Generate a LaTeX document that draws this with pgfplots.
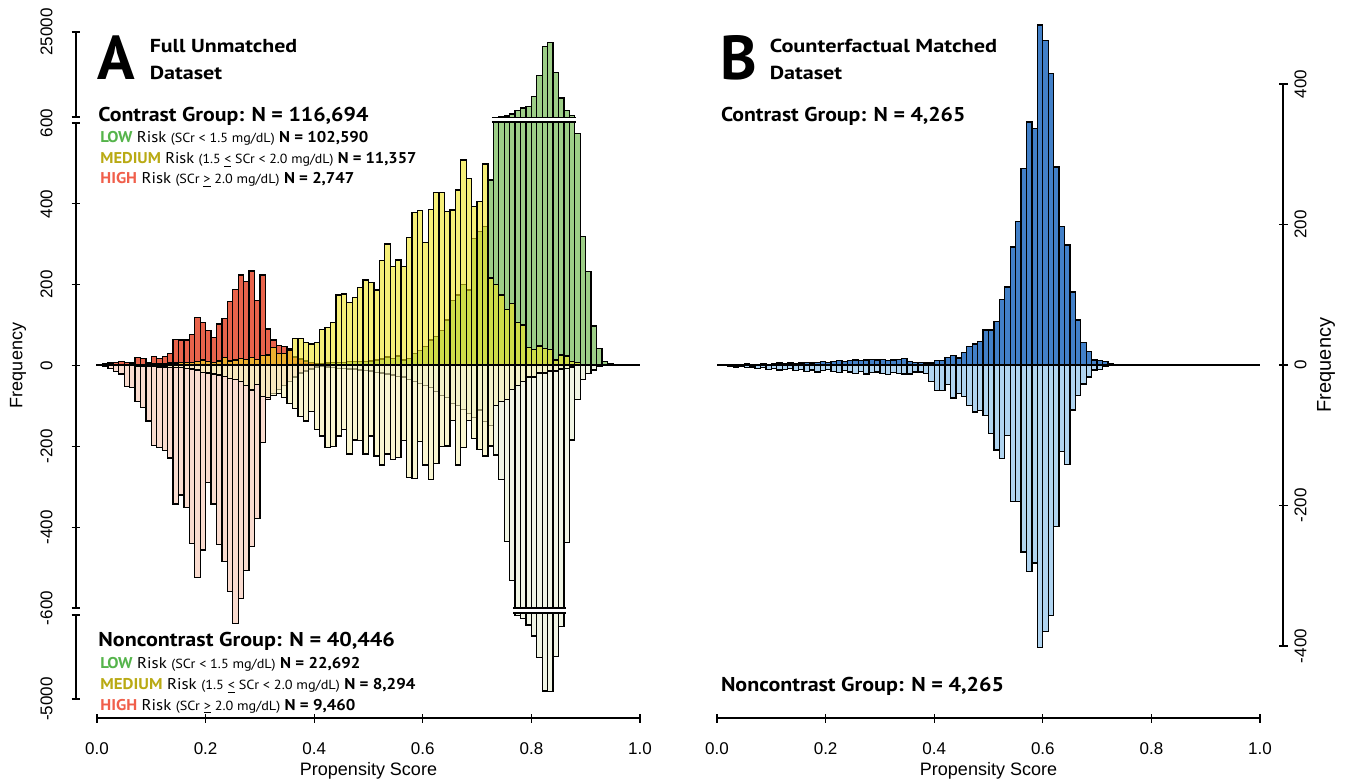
\documentclass[border=0pt]{standalone}
\usepackage{fontspec}
\setmainfont{Liberation Sans}
\newfontfamily\myr{PT Sans}
\usepackage{graphicx}
\usepackage{pgfplots}
\usepackage{pgfplotstable}
\pgfplotsset{compat=1.18}

\definecolor{redP}{RGB}{228,72,44}
\definecolor{yelP}{RGB}{240,228,30}
\definecolor{grnP}{RGB}{105,180,70}
\definecolor{redN}{RGB}{245,195,175}
\definecolor{yelN}{RGB}{245,240,180}
\definecolor{grnN}{RGB}{232,238,212}
\definecolor{bluP}{RGB}{66,128,200}
\definecolor{bluN}{RGB}{176,212,240}
\definecolor{txtLow}{RGB}{85,180,75}
\definecolor{txtMed}{RGB}{185,170,20}
\definecolor{txtHigh}{RGB}{240,95,75}

\pgfplotstableread{
i hp mp lp hn mn ln
0 2 0 0 -2 0 0
1 3 0 0 -3 0 0
2 5 0 0 -8 0 0
3 6 0 0 -16 0 0
4 8 0 0 -22 0 0
5 6 1 0 -53 -2 0
6 5 1 0 -55 -2 0
7 18 2 0 -90 -3 0
8 16 2 0 -105 -3 0
9 6 3 0 -138 -4 0
10 21 3 0 -198 -4 0
11 16 4 0 -203 -5 0
12 21 4 0 -211 -5 0
13 29 5 0 -230 -6 0
14 63 5 0 -343 -6 0
15 62 6 0 -321 -7 0
16 62 6 0 -351 -8 0
17 76 7 0 -440 -10 0
18 118 8 0 -524 -12 0
19 105 12 0 -457 -19 0
20 85 8 0 -290 -20 0
21 68 6 0 -343 -22 0
22 101 10 0 -444 -25 0
23 115 19 0 -486 -29 0
24 156 10 0 -560 -33 0
25 187 12 0 -638 -35 0
26 222 16 0 -576 -40 0
27 206 14 0 -508 -50 0
28 232 19 0 -449 -62 0
29 160 14 0 -379 -49 0
30 222 24 1 -192 -78 0
31 89 25 1 -85 -80 0
32 62 44 1 -70 -75 0
33 49 29 2 -60 -70 0
34 45 29 2 -50 -80 0
35 41 37 2 -40 -95 0
36 20 66 3 -30 -107 0
37 15 66 3 -20 -128 0
38 10 55 3 -15 -138 0
39 6 52 4 -10 -115 0
40 4 55 3 -5 -160 -3
41 2 88 4 -3 -175 -4
42 0 93 5 0 -203 -5
43 0 105 6 0 -202 -6
44 0 173 6 0 -175 -8
45 0 175 7 0 -160 -8
46 0 154 8 0 -220 -10
47 0 167 8 0 -185 -10
48 0 192 9 0 -187 -12
49 0 210 9 0 -220 -14
50 0 203 10 0 -175 -15
51 0 185 12 0 -225 -18
52 0 258 15 0 -247 -20
53 0 299 20 0 -220 -22
54 0 244 16 0 -233 -25
55 0 259 22 0 -228 -28
56 0 244 12 0 -187 -30
57 0 315 16 0 -277 -35
58 0 376 29 0 -280 -40
59 0 381 35 0 -189 -45
60 0 302 45 0 -247 -50
61 0 384 62 0 -282 -55
62 0 426 70 0 -243 -65
63 0 426 85 0 -202 -75
64 0 379 111 0 -200 -80
65 0 383 160 0 -137 -95
66 0 432 173 0 -247 -100
67 0 506 198 0 -203 -110
68 0 461 185 0 -137 -120
69 0 391 313 0 -181 -130
70 0 403 329 0 -208 -111
71 0 496 342 0 -225 -140
72 0 215 457 0 -200 -150
73 0 198 700 0 -100 -222
74 0 173 800 0 -90 -282
75 0 137 1080 0 -85 -436
76 0 151 1650 0 -60 -532
77 0 105 2590 0 -50 -738
78 0 99 3360 0 -40 -871
79 0 43 3730 0 -30 -1214
80 0 39 6575 0 -30 -1776
81 0 47 12550 0 -20 -2886
82 0 41 20800 0 -20 -4590
83 0 39 21940 0 -15 -4626
84 0 12 13490 0 -15 -2835
85 0 25 6200 0 -10 -1301
86 0 22 2590 0 -8 -439
87 0 8 1170 0 -5 -185
88 0 6 572 0 0 -85
89 0 0 317 0 0 -35
90 0 0 230 0 0 -21
91 0 0 96 0 0 -12
92 0 0 41 0 0 -4
93 0 0 8 0 0 0
94 0 0 4 0 0 0
}\tabA

\pgfplotstableread{
i cp cn
0 0 0
1 0 0
2 1 -2
3 0 -3
4 1 -2
5 2 -4
6 1 -3
7 1 -5
8 2 -4
9 1 -6
10 2 -5
11 3 -7
12 2 -6
13 3 -5
14 2 -8
15 3 -6
16 4 -9
17 3 -7
18 4 -10
19 5 -8
20 4 -6
21 5 -9
22 6 -11
23 5 -8
24 6 -10
25 7 -12
26 6 -9
27 7 -13
28 8 -11
29 7 -10
30 8 -12
31 6 -14
32 7 -11
33 8 -12
34 9 -13
35 5 -13
36 4 -10
37 4 -10
38 3 -12
39 3 -23
40 6 -36
41 6 -36
42 11 -28
43 14 -47
44 10 -41
45 18 -45
46 26 -58
47 30 -67
48 33 -65
49 50 -72
50 50 -97
51 62 -121
52 93 -133
53 111 -100
54 168 -194
55 204 -194
56 280 -266
57 346 -294
58 337 -282
59 484 -402
60 462 -379
61 415 -357
62 282 -230
63 197 -123
64 171 -142
65 104 -64
66 64 -43
67 32 -27
68 19 -17
69 7 -7
70 6 -6
71 5 -2
72 2 -1
73 1 0
}\tabB

\pgfplotsset{
  decor/.style={scale only axis, tick align=outside, major tick length=4.5pt,
    every tick/.style={black,line width=0.65pt},
    tick label style={font=\fontsize{8.5}{10}\selectfont},
    label style={font=\fontsize{9}{10}\selectfont},
    scaled ticks=false,
    /pgf/number format/assume math mode=true},
  ydec/.style={decor, width=1pt, xmin=0, xmax=1, hide x axis, axis y line=left,
    y axis line style={line width=0.65pt,-}, axis line style={-},
    yticklabel style={rotate=90, anchor=south, yshift=6pt}},
  xdec/.style={decor, height=1pt, ymin=0, ymax=1, hide y axis, axis x line=bottom,
    x axis line style={line width=0.65pt,-}, axis line style={-},
    width=271.5pt, xmin=0, xmax=1, xtick={0,0.2,0.4,0.6,0.8,1},
    xticklabels={0.0,0.2,0.4,0.6,0.8,1.0},
    xticklabel style={yshift=-6.5pt},
    xlabel={Propensity Score},
    xlabel style={at={(axis description cs:0.5,0)}, anchor=center, yshift=-26.5pt}},
  dat/.style={scale only axis, anchor=south west, width=271.5pt, height=333.5pt,
    xmin=0, xmax=1, hide axis, clip=false},
  hb/.style={ybar, bar width=0.01, draw=black, line width=0.65pt},
}
\newsavebox\fitbox
% set #2 and stretch it horizontally to width #1 (height unchanged)
\newcommand{\fitw}[2]{\sbox\fitbox{#2}\resizebox{#1}{\ht\fitbox}{\usebox\fitbox}}
\newcommand{\riskline}[4]{\fontsize{7.8}{9}\selectfont{\color{#1}\bfseries #2} Risk {\fontsize{6.6}{7}\selectfont #3} \textbf{N = #4}}
\newcommand{\grp}{\fontsize{10}{12}\selectfont\bfseries}
\newcommand{\ttl}{\fontsize{9.4}{11}\selectfont\bfseries}

\begin{document}
\begin{tikzpicture}
\path[use as bounding box] (0,0) rectangle (674pt,391pt);

% ---------- Panel A data ----------
\begin{axis}[dat, at={(48.5pt,41.5pt)}, ymin=-824.7, ymax=822.2]
\addplot[hb, fill=grnN, fill opacity=0.6,
  y filter/.expression={y<-600 ? -612.3+(y+600)*0.04827 : y}]
  table[x expr=\thisrow{i}*0.01+0.005, y=ln]{\tabA};
\addplot[hb, fill=redN, fill opacity=0.6] table[x expr=\thisrow{i}*0.01+0.005, y=hn]{\tabA};
\addplot[hb, fill=yelN, fill opacity=0.6] table[x expr=\thisrow{i}*0.01+0.005, y=mn]{\tabA};
\addplot[hb, fill=grnP, fill opacity=0.65,
  y filter/.expression={y>600 ? 610.4+(y-600)*0.00868 : y}]
  table[x expr=\thisrow{i}*0.01+0.005, y=lp]{\tabA};
\addplot[hb, fill=redP, fill opacity=0.85] table[x expr=\thisrow{i}*0.01+0.005, y=hp]{\tabA};
\addplot[hb, fill=yelP, fill opacity=0.6] table[x expr=\thisrow{i}*0.01+0.005, y=mp]{\tabA};
% axis breaks in the tall bars
\fill[white] (axis cs:0.7285,600.9) rectangle (axis cs:0.8815,609.5);
\draw[line width=0.65pt] (axis cs:0.727,600) -- (axis cs:0.883,600);
\draw[line width=0.65pt] (axis cs:0.727,610.4) -- (axis cs:0.883,610.4);
\fill[white] (axis cs:0.7685,-600.9) rectangle (axis cs:0.8615,-611.4);
\draw[line width=0.65pt] (axis cs:0.767,-600) -- (axis cs:0.863,-600);
\draw[line width=0.65pt] (axis cs:0.767,-612.3) -- (axis cs:0.863,-612.3);
\addplot[black, line width=0.9pt] coordinates {(0,0) (1,0)};
\end{axis}

% ---------- Panel B data ----------
\begin{axis}[dat, at={(358.5pt,41.5pt)}, ymin=-475.4, ymax=474.0]
\addplot[hb, fill=bluN] table[x expr=\thisrow{i}*0.01+0.005, y=cn]{\tabB};
\addplot[hb, fill=bluP] table[x expr=\thisrow{i}*0.01+0.005, y=cp]{\tabB};
\addplot[black, line width=0.9pt] coordinates {(0,0) (1,0)};
\end{axis}

% ---------- Panel A axes ----------
\begin{axis}[ydec, at={(38pt,332.5pt)}, anchor=south west, height=42.5pt,
  ymin=600, ymax=25000, ytick={600,25000}, yticklabels={,25000}]
\end{axis}
\begin{axis}[ydec, at={(38pt,87pt)}, anchor=south west, height=242.5pt,
  ymin=-600, ymax=600, ytick={-600,-400,-200,0,200,400,600},
  yticklabels={-600,-400,-200,0,200,400,600},
  ylabel={Frequency},
  ylabel style={at={(axis description cs:0,0.5)}, anchor=center, yshift=29pt}]
\end{axis}
\begin{axis}[ydec, at={(38pt,41.5pt)}, anchor=south west, height=42pt,
  ymin=-5000, ymax=-600, ytick={-5000,-600}, yticklabels={-5000,}]
\end{axis}
\begin{axis}[xdec, at={(48.5pt,32pt)}, anchor=south west]
\end{axis}

% ---------- Panel B axes ----------
\begin{axis}[xdec, at={(358.5pt,32pt)}, anchor=south west]
\end{axis}
\begin{axis}[decor, width=1pt, xmin=0, xmax=1, hide x axis, axis y line=right,
  y axis line style={line width=0.65pt,-}, axis line style={-},
  at={(641.5pt,68pt)}, anchor=south east, height=281pt,
  ymin=-400, ymax=400, ytick={-400,-200,0,200,400},
  yticklabels={-400,-200,0,200,400},
  yticklabel style={rotate=90, anchor=north},
  ylabel={Frequency},
  ylabel style={at={(axis description cs:1,0.5)}, anchor=center, yshift=-21.5pt}]
\end{axis}

% ---------- Annotations ----------
\begin{scope}[every node/.style={inner sep=0pt, anchor=base west}, font=\myr]
\node at (48.5pt,351pt) {\fontsize{31}{31}\selectfont\bfseries A};
\node at (74.7pt,364.5pt) {\fitw{73.7pt}{\ttl Full Unmatched}};
\node at (74.7pt,351.3pt) {\fitw{36.2pt}{\ttl Dataset}};
\node at (49pt,330pt) {\fitw{135pt}{\grp Contrast Group: N = 116,694}};
\node at (50pt,319.5pt) {\fitw{134pt}{\riskline{txtLow}{LOW}{(SCr < 1.5 mg/dL)}{102,590}}};
\node at (50pt,309.25pt) {\fitw{158pt}{\riskline{txtMed}{MEDIUM}{(1.5 \underline{<} SCr < 2.0 mg/dL)}{11,357}}};
\node at (50pt,299pt) {\fitw{127pt}{\riskline{txtHigh}{HIGH}{(SCr \underline{>} 2.0 mg/dL)}{2,747}}};

\node at (49pt,67.7pt) {\fitw{148.3pt}{\grp Noncontrast Group: N = 40,446}};
\node at (50pt,56.8pt) {\fitw{130pt}{\riskline{txtLow}{LOW}{(SCr < 1.5 mg/dL)}{22,692}}};
\node at (50pt,46.3pt) {\fitw{157.5pt}{\riskline{txtMed}{MEDIUM}{(1.5 \underline{<} SCr < 2.0 mg/dL)}{8,294}}};
\node at (50pt,36pt) {\fitw{127.5pt}{\riskline{txtHigh}{HIGH}{(SCr \underline{>} 2.0 mg/dL)}{9,460}}};

\node at (360pt,351pt) {\fontsize{31}{31}\selectfont\bfseries B};
\node at (384.7pt,364.5pt) {\fitw{113.7pt}{\ttl Counterfactual Matched}};
\node at (384.7pt,351.3pt) {\fitw{36.2pt}{\ttl Dataset}};
\node at (360.3pt,330pt) {\fitw{122.2pt}{\grp Contrast Group: N = 4,265}};
\node at (360.3pt,45.5pt) {\fitw{141.5pt}{\grp Noncontrast Group: N = 4,265}};
\end{scope}
\end{tikzpicture}
\end{document}
